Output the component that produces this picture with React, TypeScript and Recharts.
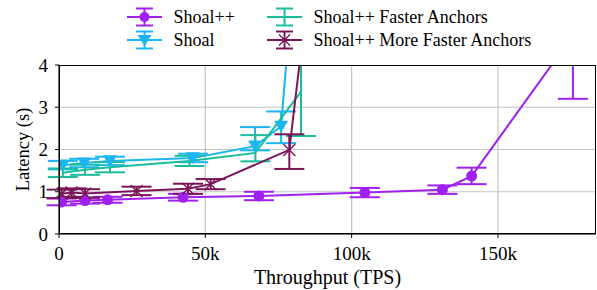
import React from 'react';
import { LineChart, Line, XAxis, YAxis, CartesianGrid, ErrorBar } from 'recharts';

// Throughput (TPS) vs latency (s); err = [minus, plus]
const shoalPlusPlus = [
  { x: 900, y: 0.76, err: [0.08, 0.08] },
  { x: 8900, y: 0.79, err: [0.07, 0.07] },
  { x: 16600, y: 0.81, err: [0.07, 0.07] },
  { x: 42400, y: 0.87, err: [0.08, 0.08] },
  { x: 68300, y: 0.9, err: [0.1, 0.1] },
  { x: 104500, y: 0.98, err: [0.11, 0.11] },
  { x: 131000, y: 1.05, err: [0.1, 0.1] },
  { x: 141000, y: 1.37, err: [0.19, 0.2] },
  { x: 175600, y: 4.7, err: [1.5, 1.5] },
];

const shoal = [
  { x: 1300, y: 1.63, err: [0.1, 0.1] },
  { x: 8600, y: 1.68, err: [0.1, 0.1] },
  { x: 17400, y: 1.73, err: [0.1, 0.1] },
  { x: 45800, y: 1.8, err: [0.1, 0.1] },
  { x: 67000, y: 2.08, err: [0.1, 0.45] },
  { x: 75900, y: 2.55, err: [0.4, 0.35] },
  { x: 79000, y: 5.2, err: [0.5, 0.5] },
];

const fasterAnchors = [
  { x: 1300, y: 1.45, err: [0.1, 0.1] },
  { x: 8900, y: 1.52, err: [0.12, 0.12] },
  { x: 17400, y: 1.58, err: [0.12, 0.12] },
  { x: 44600, y: 1.73, err: [0.12, 0.12] },
  { x: 67100, y: 1.92, err: [0.2, 0.42] },
  { x: 82700, y: 3.37, err: [1.05, 1.05] },
];

const moreFasterAnchors = [
  { x: 900, y: 0.95, err: [0.1, 0.1] },
  { x: 4300, y: 0.98, err: [0.1, 0.1] },
  { x: 8900, y: 0.96, err: [0.1, 0.1] },
  { x: 26500, y: 1.02, err: [0.1, 0.1] },
  { x: 44100, y: 1.07, err: [0.12, 0.12] },
  { x: 51800, y: 1.18, err: [0.12, 0.12] },
  { x: 78700, y: 1.99, err: [0.45, 0.37] },
  { x: 83000, y: 4.5, err: [0.3, 0.3] },
];

const xTicks = [0, 50000, 100000, 150000];
const yTicks = [0, 1, 2, 3, 4];

const PURPLE = '#a020f0';
const BLUE = '#1cb5f2';
const TEAL = '#1abc9c';
const MAROON = '#7b1558';
const FONT = '"Liberation Serif", "Times New Roman", serif';

const CircleDot = (props: any) => {
  const { cx, cy } = props;
  if (cx == null || cy == null) return null;
  return <circle cx={cx} cy={cy} r={5.5} fill={PURPLE} />;
};

const TriDot = (props: any) => {
  const { cx, cy } = props;
  if (cx == null || cy == null) return null;
  const s = 7;
  return <polygon points={`${cx - s},${cy - s * 0.8} ${cx + s},${cy - s * 0.8} ${cx},${cy + s * 0.9}`} fill={BLUE} />;
};

const XDot = (props: any) => {
  const { cx, cy } = props;
  if (cx == null || cy == null) return null;
  const s = 6;
  return (
    <g stroke={MAROON} strokeWidth={1.4}>
      <line x1={cx - s} y1={cy - s} x2={cx + s} y2={cy + s} />
      <line x1={cx - s} y1={cy + s} x2={cx + s} y2={cy - s} />
    </g>
  );
};

function LegendSymbol({ color, marker }: { color: string; marker: string }) {
  return (
    <svg width={35} height={20} style={{ display: 'block' }}>
      <line x1={0} y1={10} x2={35} y2={10} stroke={color} strokeWidth={2} />
      <line x1={17.5} y1={1.5} x2={17.5} y2={18.5} stroke={color} strokeWidth={2} />
      <line x1={9} y1={1.5} x2={26} y2={1.5} stroke={color} strokeWidth={2} />
      <line x1={9} y1={18.5} x2={26} y2={18.5} stroke={color} strokeWidth={2} />
      {marker === 'circle' && <circle cx={17.5} cy={10} r={5} fill={color} />}
      {marker === 'tri' && <polygon points="10.5,5 24.5,5 17.5,16" fill={color} />}
      {marker === 'x' && (
        <g stroke={color} strokeWidth={1.4}>
          <line x1={12} y1={4.5} x2={23} y2={15.5} />
          <line x1={12} y1={15.5} x2={23} y2={4.5} />
        </g>
      )}
    </svg>
  );
}

const legendItems = [
  { name: 'Shoal++', color: PURPLE, marker: 'circle', left: 127, top: 6 },
  { name: 'Shoal', color: BLUE, marker: 'tri', left: 127, top: 29 },
  { name: 'Shoal++ Faster Anchors', color: TEAL, marker: 'none', left: 267, top: 6 },
  { name: 'Shoal++ More Faster Anchors', color: MAROON, marker: 'x', left: 267, top: 29 },
];

export default function App() {
  const tick = { fill: '#000', fontSize: 19, fontFamily: FONT };
  return (
    <div style={{ position: 'absolute', left: 0, top: 0, width: 597, height: 290, background: '#fff', fontFamily: FONT }}>
      <LineChart width={597} height={290} margin={{ top: 65, right: 1, bottom: 0, left: 0 }}>
        <CartesianGrid stroke="#c4c4c4" strokeWidth={1.2} horizontalValues={yTicks} verticalValues={xTicks} />
        <XAxis
          type="number"
          dataKey="x"
          domain={[0, 183500]}
          ticks={xTicks}
          allowDataOverflow
          tickFormatter={(v: number) => (v === 0 ? '0' : `${v / 1000}k`)}
          tick={tick}
          tickSize={4}
          tickMargin={9}
          stroke="#000"
          height={56}
          label={{ value: 'Throughput (TPS)', position: 'insideBottom', offset: 6, fill: '#000', fontSize: 20, fontFamily: FONT }}
        />
        <YAxis
          type="number"
          domain={[0, 4]}
          ticks={yTicks}
          allowDataOverflow
          tick={tick}
          tickSize={4}
          tickMargin={7}
          stroke="#000"
          width={59}
          label={{ value: 'Latency (s)', angle: -90, position: 'insideLeft', offset: 22, fill: '#000', fontSize: 18.5, fontFamily: FONT, style: { textAnchor: 'middle' } }}
        />
        <Line data={shoalPlusPlus} dataKey="y" stroke={PURPLE} strokeWidth={2} dot={<CircleDot />} activeDot={false} isAnimationActive={false}>
          <ErrorBar dataKey="err" direction="y" width={15} stroke={PURPLE} strokeWidth={2} />
        </Line>
        <Line data={shoal} dataKey="y" stroke={BLUE} strokeWidth={2} dot={<TriDot />} activeDot={false} isAnimationActive={false}>
          <ErrorBar dataKey="err" direction="y" width={15} stroke={BLUE} strokeWidth={2} />
        </Line>
        <Line data={fasterAnchors} dataKey="y" stroke={TEAL} strokeWidth={2} dot={false} activeDot={false} isAnimationActive={false}>
          <ErrorBar dataKey="err" direction="y" width={15} stroke={TEAL} strokeWidth={2} />
        </Line>
        <Line data={moreFasterAnchors} dataKey="y" stroke={MAROON} strokeWidth={2} dot={<XDot />} activeDot={false} isAnimationActive={false}>
          <ErrorBar dataKey="err" direction="y" width={15} stroke={MAROON} strokeWidth={2} />
        </Line>
      </LineChart>
      {/* white band above the plot hides marks that overflow the y range */}
      <div style={{ position: 'absolute', left: 60, top: 0, width: 537, height: 65, background: '#fff' }} />
      {legendItems.map((it) => (
        <div key={it.name} style={{ position: 'absolute', left: it.left, top: it.top, display: 'flex', alignItems: 'center', fontSize: 18, lineHeight: '22px', color: '#000', whiteSpace: 'nowrap' }}>
          <LegendSymbol color={it.color} marker={it.marker} />
          <span style={{ marginLeft: 11.5 }}>{it.name}</span>
        </div>
      ))}
      <div style={{ position: 'absolute', left: 59, top: 65, width: 537, height: 169, border: '1px solid #000', boxSizing: 'border-box', pointerEvents: 'none' }} />
    </div>
  );
}
